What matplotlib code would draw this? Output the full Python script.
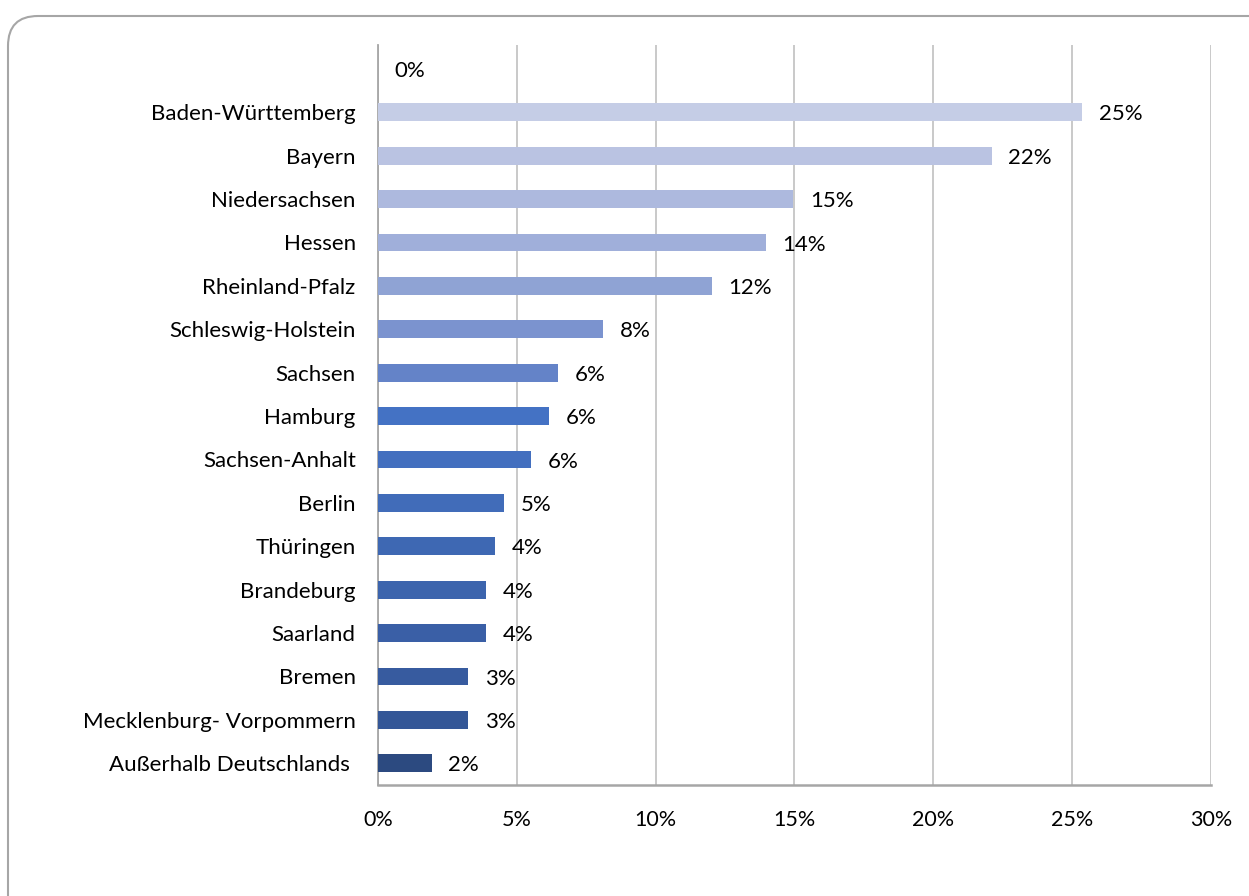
import matplotlib

matplotlib.use("Agg")
import matplotlib.pyplot as plt
import matplotlib.patches as mpatches
from matplotlib.transforms import IdentityTransform
from matplotlib.ticker import PercentFormatter

plt.rcParams["font.family"] = ["Lato", "DejaVu Sans"]

# Share of participants by federal state (first row is an empty 0% entry)
states = [
    "",
    "Baden-Württemberg",
    "Bayern",
    "Niedersachsen",
    "Hessen",
    "Rheinland-Pfalz",
    "Schleswig-Holstein",
    "Sachsen",
    "Hamburg",
    "Sachsen-Anhalt",
    "Berlin",
    "Thüringen",
    "Brandeburg",
    "Saarland",
    "Bremen",
    "Mecklenburg- Vorpommern",
    "Außerhalb Deutschlands ",
]
shares = [
    0.0, 0.2535, 0.221, 0.1495, 0.1397, 0.1203, 0.081, 0.0648,
    0.0616, 0.0551, 0.0454, 0.0421, 0.0389, 0.0389, 0.0324, 0.0324, 0.0194,
]
bar_colors = [
    "#ffffff", "#c5cde6", "#bac3e2", "#adb9de", "#a0afda", "#8fa3d4",
    "#7b93cf", "#6483c8", "#4472c4", "#436fbf", "#416cb9", "#3e68b3",
    "#3c64ad", "#3a5fa6", "#375b9f", "#345797", "#2c4a80",
]

fig = plt.figure(figsize=(12.49, 8.96), dpi=100)
ax = fig.add_axes([0.3026, 0.1239, 0.6670, 0.8259])

# Rounded frame around the whole chart
frame = mpatches.FancyBboxPatch(
    (8, -60), 1320, 940,
    boxstyle="round,pad=0,rounding_size=30",
    transform=IdentityTransform(),
    facecolor="none", edgecolor="#a6a6a6", linewidth=1.5,
)
fig.add_artist(frame)

y = range(len(states))
ax.barh(y, shares, height=0.41, color=bar_colors, zorder=3)

for i, v in enumerate(shares):
    ax.annotate(
        f"{v:.0%}",
        xy=(v, i),
        xytext=(12, -1.5),
        textcoords="offset points",
        ha="left",
        va="center",
        fontsize=16,
        color="#000000",
        zorder=4,
    )

ax.set_xlim(0, 0.30)
ax.set_ylim(16.5, -0.55)
ax.set_xticks([0, 0.05, 0.10, 0.15, 0.20, 0.25, 0.30])
ax.xaxis.set_major_formatter(PercentFormatter(1.0, decimals=0))
ax.set_yticks(list(y))
ax.set_yticklabels(states)
ax.tick_params(axis="x", length=0, pad=18, labelsize=15.5)
ax.tick_params(axis="y", length=0, pad=16, labelsize=16)

ax.grid(axis="x", color="#c0c0c0", linewidth=1.2, zorder=0)
ax.grid(axis="y", visible=False)
for side in ("top", "right"):
    ax.spines[side].set_visible(False)
ax.spines["left"].set_color("#a6a6a6")
ax.spines["bottom"].set_color("#a6a6a6")
ax.spines["left"].set_linewidth(1.3)
ax.spines["bottom"].set_linewidth(1.8)

fig.savefig("out.png", facecolor="white")
plt.close(fig)
